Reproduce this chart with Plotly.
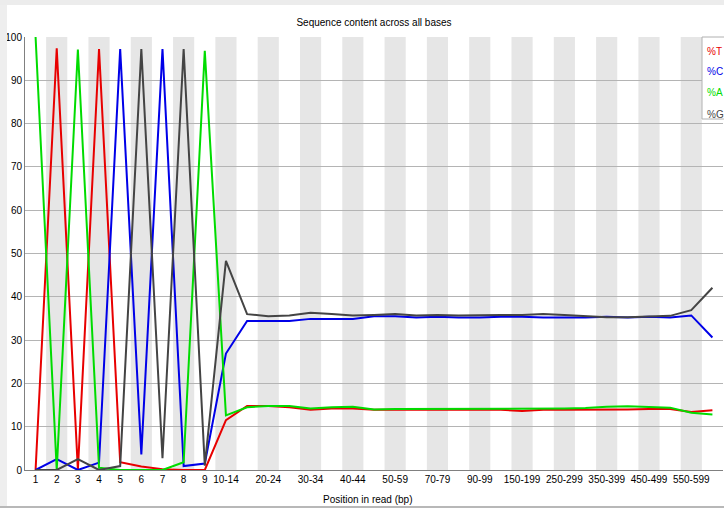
import plotly.graph_objects as go

# ---------------- data ----------------
categories = ["1", "2", "3", "4", "5", "6", "7", "8", "9",
              "10-14", "15-19", "20-24", "25-29", "30-34", "35-39", "40-44", "45-49",
              "50-59", "60-69", "70-79", "80-89", "90-99",
              "100-149", "150-199", "200-249", "250-299", "300-349", "350-399",
              "400-449", "450-499", "500-549", "550-599", "600-649"]

tick_labels = ["1", "2", "3", "4", "5", "6", "7", "8", "9", "10-14", "20-24", "30-34",
               "40-44", "50-59", "70-79", "90-99", "150-199", "250-299", "350-399",
               "450-499", "550-599"]

y_ticks = [0, 10, 20, 30, 40, 50, 60, 70, 80, 90, 100]

pct_T = [0, 97.4, 0, 97.2, 1.8, 0.8, 0.2, 0, 0, 11.5,
         14.8, 14.8, 14.5, 13.9, 14.2, 14.2, 13.9, 13.9, 13.9, 13.9, 13.9, 13.9,
         13.9, 13.6, 13.9, 13.9, 13.9, 13.9, 14.0, 14.1, 14.1, 13.4, 13.8]
pct_C = [0, 2.5, 0, 1.7, 97.2, 3.6, 97.2, 0.9, 1.5, 26.9,
         34.4, 34.4, 34.4, 34.9, 34.9, 34.9, 35.5, 35.5, 35.2, 35.4, 35.2, 35.2,
         35.4, 35.4, 35.2, 35.2, 35.2, 35.4, 35.2, 35.4, 35.2, 35.7, 30.6]
pct_A = [100, 0, 97.1, 0.5, 0, 0, 0, 1.8, 96.8, 12.6,
         14.5, 14.8, 14.8, 14.2, 14.5, 14.6, 14.0, 14.1, 14.1, 14.2, 14.2, 14.2,
         14.2, 14.2, 14.2, 14.2, 14.3, 14.6, 14.7, 14.6, 14.4, 13.2, 12.8]
pct_G = [0, 0, 2.5, 0, 0.9, 97.2, 2.7, 97.2, 1.0, 48.3,
         36.0, 35.5, 35.7, 36.3, 36.0, 35.7, 35.8, 36.0, 35.7, 35.8, 35.7, 35.8,
         35.8, 35.8, 36.0, 35.8, 35.5, 35.3, 35.3, 35.5, 35.6, 36.9, 42.1]

series = [("%T", pct_T, "#e80000"),
          ("%C", pct_C, "#0000e8"),
          ("%A", pct_A, "#00dc00"),
          ("%G", pct_G, "#444444")]

# ---------------- geometry ----------------
W, H = 724, 508
L, R, T, B = 25, 723, 37, 470
FONT = "Liberation Sans, Arial, sans-serif"


def px(xp):
    return (xp - L) / (R - L)


def py(yp):
    return (B - yp) / (B - T)


fig = go.Figure()
for name, vals, col in series:
    fig.add_trace(go.Scatter(x=categories, y=vals, mode="lines", name=name,
                             line=dict(color=col, width=2), showlegend=False))

shapes = []
# alternating background stripes
for i in range(len(categories)):
    if i % 2 == 1:
        shapes.append(dict(type="rect", xref="x", yref="paper", x0=i - 0.5, x1=i + 0.5,
                           y0=0, y1=1, fillcolor="#e6e6e6", line=dict(width=0),
                           layer="below"))
# legend box
shapes.append(dict(type="rect", xref="paper", yref="paper", x0=px(702), x1=px(740),
                   y0=py(119), y1=py(37), fillcolor="white",
                   line=dict(color="#b0b0b0", width=1), layer="above"))
# window shadows / frame
shapes.append(dict(type="rect", xref="paper", yref="paper", x0=px(0), x1=px(7),
                   y0=py(508), y1=py(0), fillcolor="#eeeeee", line=dict(width=0),
                   layer="above"))
shapes.append(dict(type="rect", xref="paper", yref="paper", x0=px(0), x1=px(724),
                   y0=py(5), y1=py(0), fillcolor="#ececec", line=dict(width=0),
                   layer="above"))
shapes.append(dict(type="rect", xref="paper", yref="paper", x0=px(0), x1=px(724),
                   y0=py(508), y1=py(506), fillcolor="#b8b8b8", line=dict(width=0),
                   layer="above"))

annotations = []
legend_rows = [52, 72, 93, 114]
for (name, _, col), yrow in zip(series, legend_rows):
    annotations.append(dict(text=name, xref="paper", yref="paper", x=px(705), y=py(yrow),
                            xanchor="left", yanchor="middle", showarrow=False,
                            font=dict(family=FONT, size=10, color=col)))
annotations.append(dict(text="Position in read (bp)", xref="paper", yref="paper",
                        x=px(368), y=py(500), xanchor="center", yanchor="middle",
                        showarrow=False, font=dict(family=FONT, size=10, color="black")))

fig.update_layout(
    width=W, height=H,
    margin=dict(l=L, r=W - R, t=T, b=H - B, pad=0),
    paper_bgcolor="white", plot_bgcolor="white",
    font=dict(family=FONT, size=10, color="black"),
    title=dict(text="Sequence content across all bases", x=0.5, xref="paper",
               y=1 - 22 / H, yref="container", xanchor="center", yanchor="middle",
               font=dict(family=FONT, size=10, color="black")),
    xaxis=dict(type="category", categoryorder="array", categoryarray=categories,
               range=[-0.5, len(categories) - 0.5], tickmode="array",
               tickvals=tick_labels, ticktext=tick_labels, showgrid=False,
               showline=True, linecolor="#808080", linewidth=1, ticks="",
               tickfont=dict(family=FONT, size=10, color="black"), zeroline=False),
    yaxis=dict(range=[0, 100], tickmode="array", tickvals=y_ticks,
               ticktext=[str(v) for v in y_ticks], showgrid=True, gridcolor="#b4b4b4",
               gridwidth=1, showline=True, linecolor="#808080", linewidth=1, ticks="",
               zeroline=False, tickfont=dict(family=FONT, size=10, color="black")),
    shapes=shapes, annotations=annotations,
)

fig.write_html("out.html", config={"displayModeBar": False},
               post_script="document.body.style.margin='0';document.body.style.overflow='hidden';")
